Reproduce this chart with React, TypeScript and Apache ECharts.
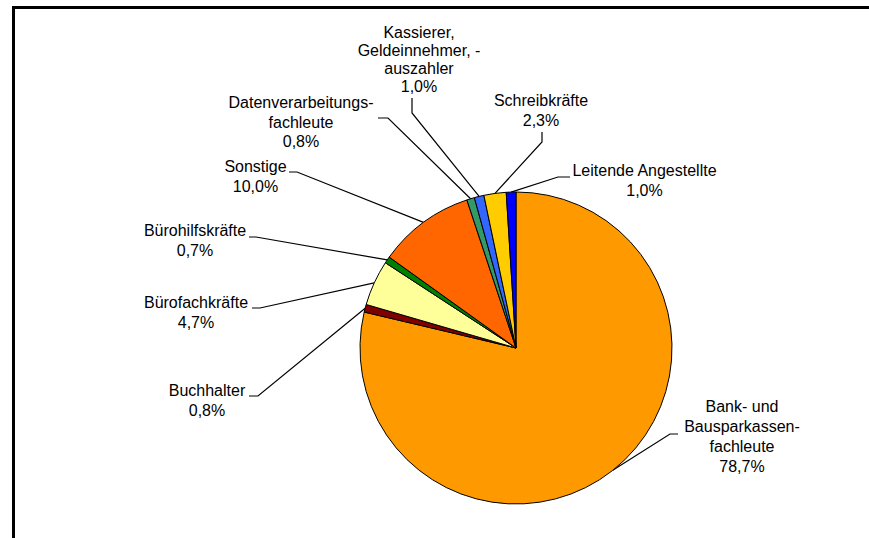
import React, { useEffect, useRef } from "react";
import * as echarts from "echarts";

// Categories (clockwise from 12 o'clock)
const categories: string[] = [
  "Bank- und\nBausparkassen-\nfachleute",
  "Buchhalter",
  "Bürofachkräfte",
  "Bürohilfskräfte",
  "Sonstige",
  "Datenverarbeitungs-\nfachleute",
  "Kassierer,\nGeldeinnehmer, -\nauszahler",
  "Schreibkräfte",
  "Leitende Angestellte",
];

// Shares in percent
const shares: number[] = [78.7, 0.8, 4.7, 0.7, 10.0, 0.8, 1.0, 2.3, 1.0];

const colors: string[] = [
  "#FF9900",
  "#800000",
  "#FFFF99",
  "#008000",
  "#FF6600",
  "#339966",
  "#3366FF",
  "#FFCC00",
  "#0000FF",
];

// Label layout: label centre (x, y), leader elbow (ex, ey), leader end at label (ax, ay), line height
const labelLayoutSpec = [
  { x: 742, y: 436.5, ex: 670, ey: 434, ax: 678, ay: 434, lh: 20 },
  { x: 207, y: 400, ex: 258, ey: 396, ax: 249, ay: 396, lh: 20 },
  { x: 196, y: 312.7, ex: 260, ey: 308, ax: 252, ay: 308, lh: 20 },
  { x: 195, y: 240, ex: 256, ey: 237, ax: 249, ay: 237, lh: 20 },
  { x: 255.5, y: 176, ex: 297, ey: 172, ax: 289, ay: 172, lh: 20 },
  { x: 301, y: 122.3, ex: 388, ey: 118, ax: 378, ay: 118, lh: 19.5 },
  { x: 419, y: 59.5, ex: 412, ey: 113, ax: 412, ay: 98, lh: 17.8 },
  { x: 541, y: 110, ex: 542, ey: 142, ax: 542, ay: 132, lh: 20 },
  { x: 644.5, y: 180, ex: 558, ey: 177, ax: 570, ay: 177, lh: 20 },
];

const fmt = (v: number) => v.toFixed(1).replace(".", ",");

export default function App() {
  const ref = useRef<HTMLDivElement>(null);

  useEffect(() => {
    if (!ref.current) return;
    const chart = echarts.init(ref.current, null, { renderer: "svg" });

    const data = categories.map((name, i) => ({
      name,
      value: shares[i],
      itemStyle: { color: colors[i] },
      label: { lineHeight: labelLayoutSpec[i].lh },
    }));

    chart.setOption({
      animation: false,
      backgroundColor: "#ffffff",
      graphic: [
        { type: "rect", shape: { x: 12, y: 6, width: 857, height: 3 }, style: { fill: "#000" } },
        { type: "rect", shape: { x: 12, y: 6, width: 3, height: 532 }, style: { fill: "#000" } },
      ],
      series: [
        {
          type: "pie",
          center: [516, 348],
          radius: 156,
          startAngle: 90,
          clockwise: true,
          avoidLabelOverlap: false,
          minShowLabelAngle: 0,
          itemStyle: { borderColor: "#000", borderWidth: 1 },
          emphasis: { disabled: true },
          label: {
            show: true,
            position: "outside",
            formatter: (p: any) => `${p.name}\n${fmt(p.value)}%`,
            fontFamily: "'Liberation Sans', Arial, sans-serif",
            fontSize: 16,
            color: "#000",
            align: "center",
          },
          labelLine: {
            show: true,
            smooth: false,
            lineStyle: { color: "#000", width: 1.2 },
          },
          labelLayout: (params: any) => {
            const s = labelLayoutSpec[params.dataIndex];
            const start =
              params.labelLinePoints && params.labelLinePoints[0]
                ? params.labelLinePoints[0]
                : [s.ex, s.ey];
            return {
              x: s.x,
              y: s.y,
              align: "center",
              verticalAlign: "middle",
              labelLinePoints: [start, [s.ex, s.ey], [s.ax, s.ay]],
            };
          },
          data,
        },
      ],
    });

    return () => chart.dispose();
  }, []);

  return (
    <div
      ref={ref}
      style={{ position: "absolute", left: 0, top: 0, width: 869, height: 538 }}
    />
  );
}
